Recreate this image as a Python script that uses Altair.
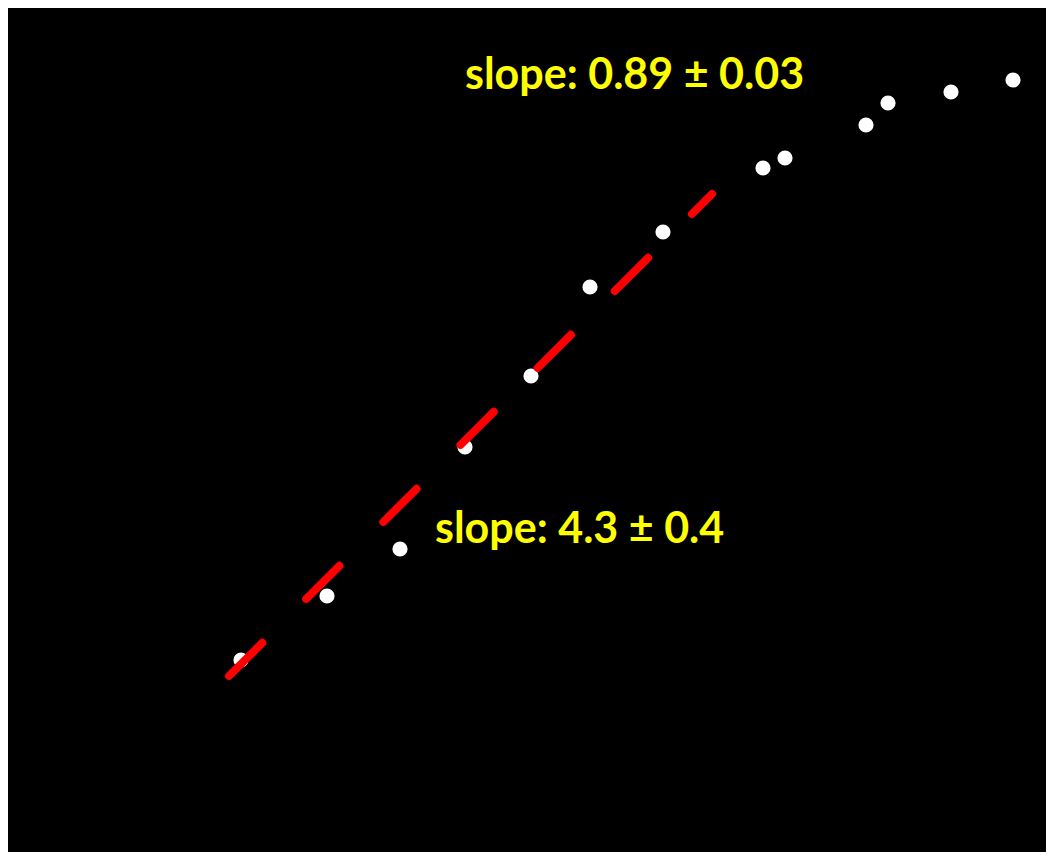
import altair as alt
import pandas as pd

# data points (x, y in arbitrary plot units)
pt_x = [2.33, 3.19, 3.92, 4.57, 5.23, 5.82, 6.55, 7.55, 7.77, 8.58, 8.80, 9.43, 10.05]
pt_y = [2.05, 2.69, 3.16, 4.18, 4.89, 5.78, 6.33, 6.97, 7.07, 7.40, 7.62, 7.73, 7.85]

# fit line endpoints
fit_x = [2.21, 7.04]
fit_y = [1.89, 6.71]

# annotations
labels = ["slope: 0.89 \u00b1 0.03", "slope: 4.3 \u00b1 0.4"]
label_x = [4.57, 4.27]
label_y = [7.76, 3.22]

W, H = 1038, 844
xs = alt.Scale(domain=[0, 10.38], nice=False, zero=False)
ys = alt.Scale(domain=[0.13, 8.57], nice=False, zero=False)

pts = pd.DataFrame({"x": pt_x, "y": pt_y})
fit = pd.DataFrame({"x": fit_x, "y": fit_y})
lab = pd.DataFrame({"x": label_x, "y": label_y, "t": labels})

line = alt.Chart(fit).mark_line(
    color="#ff0000", strokeWidth=8, strokeCap="round", strokeDash=[47, 62]
).encode(
    x=alt.X("x:Q", scale=xs, axis=None),
    y=alt.Y("y:Q", scale=ys, axis=None),
)

points = alt.Chart(pts).mark_circle(color="white", opacity=1, size=230).encode(
    x=alt.X("x:Q", scale=xs, axis=None),
    y=alt.Y("y:Q", scale=ys, axis=None),
)

text = alt.Chart(lab).mark_text(
    color="#ffff00", font="Lato", fontWeight="bold", fontSize=43,
    align="left", baseline="alphabetic"
).encode(
    x=alt.X("x:Q", scale=xs, axis=None),
    y=alt.Y("y:Q", scale=ys, axis=None),
    text="t:N",
)

chart = alt.layer(points, line, text).properties(
    width=W, height=H, background="black", padding=0,
    autosize=alt.AutoSizeParams(type="fit", contains="padding"),
).configure_view(stroke=None, fill="black")

chart.save("out.html", embed_options={"renderer": "svg", "actions": False})
